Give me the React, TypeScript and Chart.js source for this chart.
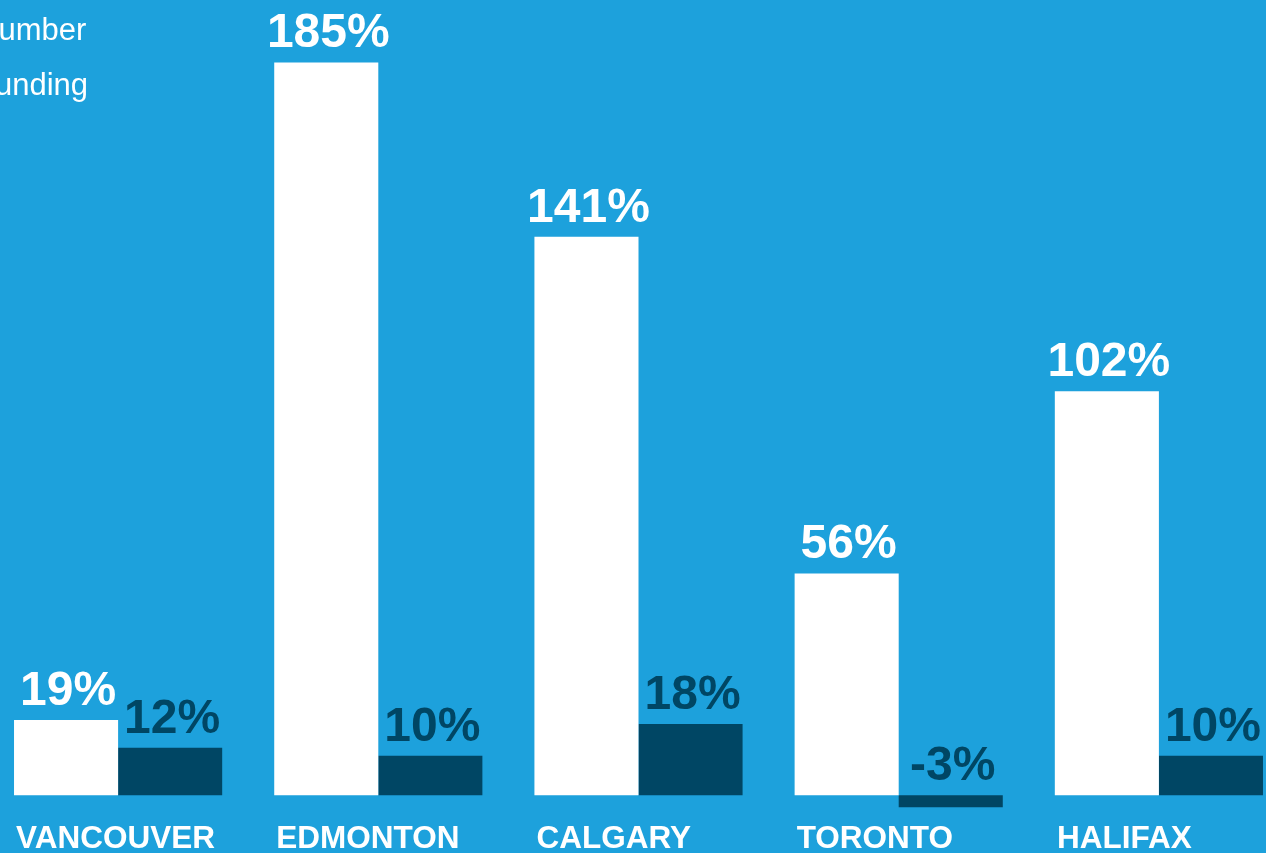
import React, { useEffect, useRef } from "react";
import { Chart, registerables } from "chart.js";

Chart.register(...registerables);

const categories = ["VANCOUVER", "EDMONTON", "CALGARY", "TORONTO", "HALIFAX"];
const numberChange = [19, 185, 141, 56, 102];
const fundingChange = [12, 10, 18, -3, 10];
const seriesNames = ["Number", "Funding"];

const BG = "#1DA1DC";
const WHITE = "#FFFFFF";
const NAVY = "#004664";
const FONT = '"Liberation Sans", Arial, Helvetica, sans-serif';

const CANVAS_W = 1409;
const CANVAS_H = 880;

const valueLabels = {
  id: "valueLabels",
  afterDatasetsDraw(chart: any) {
    const ctx = chart.ctx;
    ctx.save();
    ctx.font = `bold 48px ${FONT}`;
    ctx.textAlign = "center";
    ctx.textBaseline = "alphabetic";
    chart.data.datasets.forEach((ds: any, di: number) => {
      const meta = chart.getDatasetMeta(di);
      ctx.fillStyle = di === 0 ? WHITE : NAVY;
      meta.data.forEach((el: any, i: number) => {
        const top = Math.min(el.y, el.base);
        ctx.fillText(`${ds.data[i]}%`, el.x + 2, top - 15);
      });
    });
    ctx.restore();
  },
};

const sideLegend = {
  id: "sideLegend",
  afterDraw(chart: any) {
    const ctx = chart.ctx;
    ctx.save();
    ctx.font = `31px ${FONT}`;
    ctx.textAlign = "left";
    ctx.textBaseline = "alphabetic";
    const x0 = 36;
    const rows = [40, 94.5];
    seriesNames.forEach((name, i) => {
      ctx.fillStyle = i === 0 ? WHITE : NAVY;
      ctx.fillRect(x0 - 34, rows[i] - 22, 24, 24);
      ctx.fillStyle = WHITE;
      ctx.fillText(name, x0, rows[i]);
    });
    ctx.restore();
  },
};

export default function App() {
  const ref = useRef<HTMLCanvasElement | null>(null);

  useEffect(() => {
    document.body.style.background = BG;
    const canvas = ref.current;
    if (!canvas) return;
    const chart = new Chart(canvas, {
      type: "bar",
      data: {
        labels: categories,
        datasets: [
          {
            label: seriesNames[0],
            data: numberChange,
            backgroundColor: WHITE,
            borderWidth: 0,
            categoryPercentage: 0.8,
            barPercentage: 1.0,
          },
          {
            label: seriesNames[1],
            data: fundingChange,
            backgroundColor: NAVY,
            borderWidth: 0,
            categoryPercentage: 0.8,
            barPercentage: 1.0,
          },
        ],
      },
      options: {
        animation: false,
        responsive: false,
        devicePixelRatio: 1,
        layout: { padding: { left: 48, right: 60, top: 3, bottom: 13 } },
        plugins: {
          legend: { display: false },
          tooltip: { enabled: false },
          title: { display: false },
        },
        scales: {
          x: {
            grid: { display: false, drawTicks: false },
            border: { display: false },
            ticks: {
              color: WHITE,
              font: { family: FONT, size: 31.5, weight: "bold" },
              align: "start",
              labelOffset: -102,
              padding: 9,
              maxRotation: 0,
              minRotation: 0,
              autoSkip: false,
            },
          },
          y: {
            display: false,
            min: -4,
            max: 200,
            grid: { display: false },
          },
        },
      },
      plugins: [valueLabels, sideLegend],
    });
    return () => chart.destroy();
  }, []);

  return (
    <div
      style={{
        position: "fixed",
        left: -60,
        top: 0,
        width: CANVAS_W,
        height: CANVAS_H,
        background: BG,
      }}
    >
      <canvas
        ref={ref}
        width={CANVAS_W}
        height={CANVAS_H}
        style={{ display: "block", width: CANVAS_W, height: CANVAS_H }}
      />
    </div>
  );
}
